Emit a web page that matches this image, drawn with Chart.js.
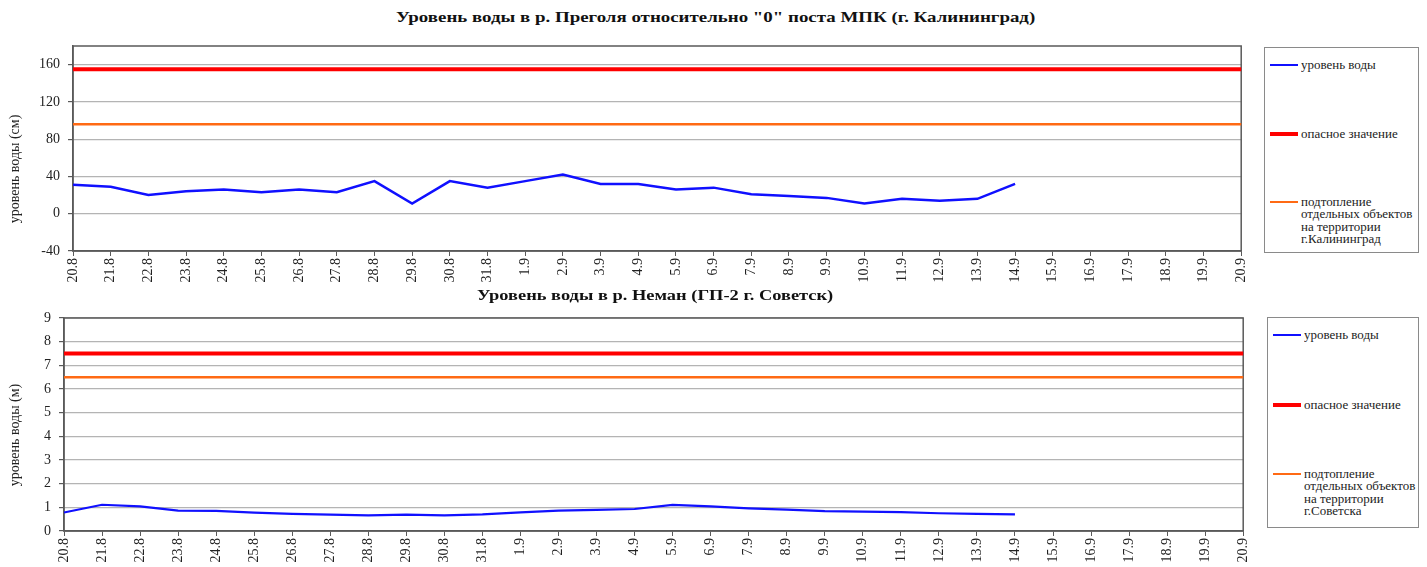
<!DOCTYPE html>
<html>
<head>
<meta charset="utf-8">
<script src="https://cdn.jsdelivr.net/npm/chart.js@4"></script>
<style>
  body { margin: 0; background: #fff; font-family: 'Liberation Serif', 'Times New Roman', serif; }
  #wrap { position: relative; width: 1427px; height: 567px; overflow: hidden; }
  canvas { position: absolute; left: 0; }
  .title { position: absolute; font-weight: bold; font-size: 15px; color: #111; white-space: nowrap; transform-origin: 0 50%; }
  .ytitle { position: absolute; font-size: 14px; color: #222; white-space: nowrap; }
  .legend { position: absolute; border: 1px solid #8a8a8a; background: #fff; box-sizing: border-box; }
  .item { position: absolute; left: 5px; font-size: 12px; line-height: 12.4px; color: #222; }
  .item i { position: absolute; left: 0; width: 28px; }
  .item span { position: absolute; left: 31px; white-space: nowrap; transform: scaleX(1.08); transform-origin: 0 50%; }
</style>
</head>
<body>
<div id="wrap">
  <div class="title" id="title1" style="top:9px; left:396px;"></div>
  <canvas id="chart1" width="1260" height="290" style="top:0"></canvas>
  <canvas id="chart2" width="1262" height="277" style="top:290px"></canvas>
  <div class="title" id="title2" style="top:287px; left:477px;"></div>
  <div class="ytitle" id="ytitle1"></div>
  <div class="ytitle" id="ytitle2"></div>
  <div class="legend" id="legend1" style="left:1264px; top:47px; width:155px; height:206px;"></div>
  <div class="legend" id="legend2" style="left:1267px; top:317px; width:152px; height:211px;"></div>
</div>

<script>
// Dates (shared x axis)
const dates = ['20.8', '21.8', '22.8', '23.8', '24.8', '25.8', '26.8', '27.8', '28.8', '29.8', '30.8', '31.8',
    '1.9', '2.9', '3.9', '4.9', '5.9', '6.9', '7.9', '8.9', '9.9', '10.9', '11.9', '12.9', '13.9', '14.9',
    '15.9', '16.9', '17.9', '18.9', '19.9', '20.9'];

// Pregolya, Kaliningrad (cm)
const pregolyaTitle = 'Уровень воды в р. Преголя относительно "0" поста МПК (г. Калининград)';
const pregolyaLevel = [31, 29, 20, 24, 26, 23, 26, 23, 35, 11, 35, 28,
    35, 42, 32, 32, 26, 28, 21, 19, 17, 11, 16, 14, 16, 32];
const pregolyaDanger = [155, 155, 155, 155, 155, 155, 155, 155, 155, 155, 155, 155, 155, 155, 155, 155,
    155, 155, 155, 155, 155, 155, 155, 155, 155, 155, 155, 155, 155, 155, 155, 155];
const pregolyaFlood = [96, 96, 96, 96, 96, 96, 96, 96, 96, 96, 96, 96, 96, 96, 96, 96,
    96, 96, 96, 96, 96, 96, 96, 96, 96, 96, 96, 96, 96, 96, 96, 96];

// Neman, Sovetsk (m)
const nemanTitle = 'Уровень воды в р. Неман (ГП-2 г. Советск)';
const nemanLevel = [0.78, 1.11, 1.04, 0.86, 0.85, 0.78, 0.72, 0.69, 0.66, 0.69, 0.66, 0.70,
    0.79, 0.86, 0.89, 0.93, 1.10, 1.04, 0.96, 0.90, 0.84, 0.82, 0.80, 0.75, 0.72, 0.70];
const nemanDanger = [7.5, 7.5, 7.5, 7.5, 7.5, 7.5, 7.5, 7.5, 7.5, 7.5, 7.5, 7.5, 7.5, 7.5, 7.5, 7.5,
    7.5, 7.5, 7.5, 7.5, 7.5, 7.5, 7.5, 7.5, 7.5, 7.5, 7.5, 7.5, 7.5, 7.5, 7.5, 7.5];
const nemanFlood = [6.5, 6.5, 6.5, 6.5, 6.5, 6.5, 6.5, 6.5, 6.5, 6.5, 6.5, 6.5, 6.5, 6.5, 6.5, 6.5,
    6.5, 6.5, 6.5, 6.5, 6.5, 6.5, 6.5, 6.5, 6.5, 6.5, 6.5, 6.5, 6.5, 6.5, 6.5, 6.5];

const labelLevel = 'уровень воды';
const labelDanger = 'опасное значение';
const labelFloodKlg = 'подтопление\nотдельных объектов\nна территории\nг.Калининград';
const labelFloodSov = 'подтопление\nотдельных объектов\nна территории\nг.Советска';

const FONT = "'Liberation Serif', 'Times New Roman', serif";
const BLUE = '#1010ff', RED = '#ff0000', ORANGE = '#ff6a14';

// Dark frame around plot area
const framePlugin = {
    id: 'frame',
    beforeDatasetsDraw(chart) {
        const a = chart.chartArea, ctx = chart.ctx;
        ctx.save();
        ctx.strokeStyle = '#5a5a5a';
        ctx.lineWidth = 1.5;
        ctx.strokeRect(a.left, a.top, a.right - a.left, a.bottom - a.top);
        ctx.restore();
    }
};

function makeChart(id, opts) {
    return new Chart(document.getElementById(id), {
        type: 'line',
        data: {
            labels: dates,
            datasets: [
                { label: opts.labels[0], data: opts.level, borderColor: BLUE, borderWidth: opts.blueWidth, order: 1 },
                { label: opts.labels[1], data: opts.danger, borderColor: RED, borderWidth: 4, order: 2 },
                { label: opts.labels[2], data: opts.flood, borderColor: ORANGE, borderWidth: 2.5, order: 3 }
            ].map(ds => ({ ...ds, pointRadius: 0, tension: 0, fill: false }))
        },
        options: {
            responsive: false,
            animation: false,
            layout: { padding: { top: opts.padTop, right: opts.padRight, left: 0, bottom: 0 } },
            plugins: { legend: { display: false }, title: { display: false }, tooltip: { enabled: false } },
            scales: {
                x: {
                    offset: false,
                    grid: { drawOnChartArea: false, drawTicks: true, tickLength: 5, color: '#5a5a5a' },
                    border: { color: '#5a5a5a', width: 1.5 },
                    ticks: { autoSkip: false, maxRotation: 90, minRotation: 90, padding: 2,
                        color: '#222', font: { family: FONT, size: 14 } },
                    afterFit(scale) { scale.height = opts.xHeight; }
                },
                y: {
                    min: opts.min, max: opts.max,
                    ticks: { stepSize: opts.step, padding: 8, color: '#222', font: { family: FONT, size: 14 } },
                    grid: { color: '#b4b4b4', lineWidth: 1.2, tickLength: 5, tickColor: '#5a5a5a' },
                    border: { color: '#5a5a5a', width: 1.5 },
                    afterBuildTicks(scale) {
                        scale.ticks = scale.ticks.filter(t => t.value <= opts.lastTick);
                    },
                    afterFit(scale) { scale.width = opts.yWidth; }
                }
            }
        },
        plugins: [framePlugin]
    });
}

makeChart('chart1', {
    level: pregolyaLevel, danger: pregolyaDanger, flood: pregolyaFlood,
    labels: [labelLevel, labelDanger, labelFloodKlg],
    min: -40, max: 180, step: 40, lastTick: 160, blueWidth: 2.5,
    padTop: 46, padRight: 12, yWidth: 73, xHeight: 39
});

makeChart('chart2', {
    level: nemanLevel, danger: nemanDanger, flood: nemanFlood,
    labels: [labelLevel, labelDanger, labelFloodSov],
    min: 0, max: 9, step: 1, lastTick: 9, blueWidth: 2.2,
    padTop: 28, padRight: 8, yWidth: 64, xHeight: 36
});

// Titles, stretched to the width they take in the picture
function setTitle(id, text, width) {
    const el = document.getElementById(id);
    el.textContent = text;
    el.style.transform = 'scaleX(' + (width / el.offsetWidth).toFixed(3) + ')';
}
setTitle('title1', pregolyaTitle, 639);
setTitle('title2', nemanTitle, 356);

// Rotated y axis titles, centred on a given point
function setYTitle(id, text, cx, cy) {
    const el = document.getElementById(id);
    el.textContent = text;
    el.style.left = (cx - el.offsetWidth / 2) + 'px';
    el.style.top = (cy - el.offsetHeight / 2) + 'px';
    el.style.transform = 'rotate(-90deg)';
}
setYTitle('ytitle1', 'уровень воды (см)', 15, 169);
setYTitle('ytitle2', 'уровень воды (м)', 15, 435);

// HTML legend boxes
function buildLegend(id, labels, tops) {
    const box = document.getElementById(id);
    const colors = [BLUE, RED, ORANGE];
    const widths = [2.5, 4, 2.5];
    labels.forEach((text, i) => {
        const item = document.createElement('div');
        item.className = 'item';
        item.style.top = tops[i] + 'px';
        const line = document.createElement('i');
        line.style.borderTop = widths[i] + 'px solid ' + colors[i];
        line.style.top = (6 - widths[i] / 2) + 'px';
        const span = document.createElement('span');
        span.innerHTML = text.split('\n').join('<br>');
        item.appendChild(line);
        item.appendChild(span);
        box.appendChild(item);
    });
}
buildLegend('legend1', [labelLevel, labelDanger, labelFloodKlg], [11, 80, 148]);
buildLegend('legend2', [labelLevel, labelDanger, labelFloodSov], [11, 81, 150]);
</script>
</body>
</html>
